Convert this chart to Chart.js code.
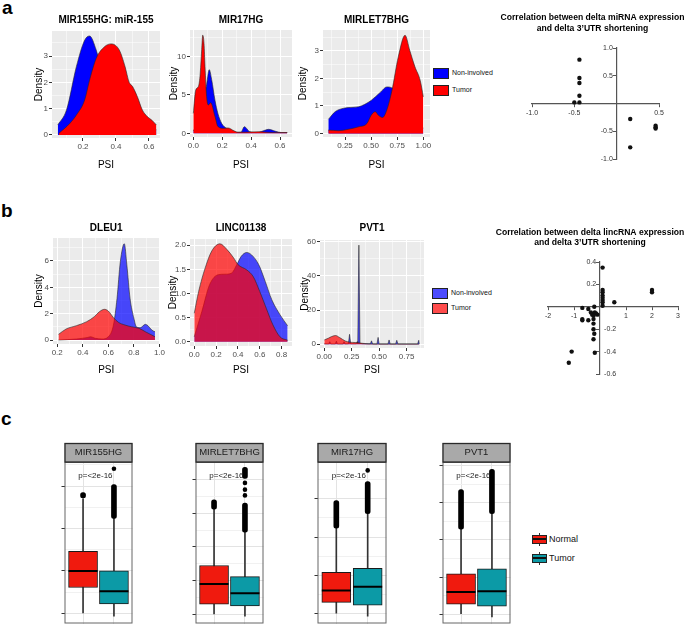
<!DOCTYPE html>
<html>
<head>
<meta charset="utf-8">
<script src="https://cdn.jsdelivr.net/npm/chart.js@4.4.0/dist/chart.umd.min.js"></script>
<style>
  body { margin: 0; background: #fff; width: 685px; height: 642px; overflow: hidden; position: relative;
         font-family: "Liberation Sans", Arial, sans-serif; }
  canvas { position: absolute; }
  .tag { position: absolute; font-weight: bold; font-size: 19px; line-height: 19px; }
  .key { position: absolute; width: 14px; height: 9px; border: 1px solid #222; }
  .ktxt { position: absolute; font-size: 7px; line-height: 8px; color: #111; }
  .bkey { position: absolute; width: 15px; height: 13px; }
  .bkey .w { position: absolute; left: 7px; top: 0; width: 1px; height: 13px; background: #333; }
  .bkey .b { position: absolute; left: 0; top: 2px; width: 13px; height: 7px; border: 1px solid #222; }
  .bkey .m { position: absolute; left: 1px; top: 5px; width: 13px; height: 2px; background: #111; }
  .btxt { position: absolute; font-size: 9px; line-height: 10px; color: #111; }
</style>
</head>
<body>
<div class="tag" style="left:2px;top:-2px;">a</div>
<div class="tag" style="left:1px;top:201px;">b</div>
<div class="tag" style="left:1px;top:409px;">c</div>

<div class="key" style="left:433px;top:68px;background:#0000ff"></div>
<div class="key" style="left:433px;top:85px;background:#ff0000"></div>
<div class="ktxt" style="left:452px;top:69px;">Non-involved</div>
<div class="ktxt" style="left:452px;top:86px;">Tumor</div>

<div class="key" style="left:432px;top:288px;background:rgba(0,0,255,0.7)"></div>
<div class="key" style="left:432px;top:303px;background:rgba(255,0,0,0.7)"></div>
<div class="ktxt" style="left:451px;top:289px;">Non-involved</div>
<div class="ktxt" style="left:451px;top:304px;">Tumor</div>

<div class="bkey" style="left:532px;top:533px;"><div class="w"></div><div class="b" style="background:#f01a0e"></div><div class="m"></div></div>
<div class="bkey" style="left:532px;top:552px;"><div class="w"></div><div class="b" style="background:#0c9aa6"></div><div class="m"></div></div>
<div class="btxt" style="left:549px;top:534px;">Normal</div>
<div class="btxt" style="left:549px;top:553px;">Tumor</div>

<script>
// ---------- panel a : PSI density curves, [PSI, density] ----------
const mir155Normal = [[0.047,0.38],[0.1,0.95],[0.16,2.6],[0.21,3.6],[0.24,3.76],[0.28,3.23],[0.32,2.3],[0.36,1.7],[0.42,1.2],[0.5,0.7],[0.58,0.35],[0.645,0.2]];
const mir155Tumor  = [[0.053,0.06],[0.12,0.44],[0.16,0.76],[0.21,1.33],[0.24,2.09],[0.28,2.91],[0.33,3.35],[0.37,3.46],[0.42,3.23],[0.455,2.6],[0.48,2.0],[0.5,1.85],[0.53,1.45],[0.56,0.95],[0.59,0.7],[0.62,0.55],[0.645,0.38]];
const mir17Normal  = [[0.0,0.3],[0.03,1.5],[0.06,4.0],[0.09,6.1],[0.11,8.3],[0.127,7.0],[0.15,4.3],[0.17,2.6],[0.196,1.3],[0.23,0.65],[0.27,0.35],[0.3,0.13],[0.33,0.15],[0.353,0.87],[0.39,0.22],[0.44,0.1],[0.5,0.43],[0.52,0.52],[0.57,0.26],[0.61,0.1],[0.65,0.1]];
const mir17Tumor   = [[0.0,2.6],[0.016,5.6],[0.035,6.1],[0.046,7.4],[0.058,10.9],[0.065,12.8],[0.074,11.7],[0.081,8.7],[0.092,4.8],[0.104,3.7],[0.12,4.0],[0.15,2.2],[0.17,0.9],[0.21,0.65],[0.24,0.7],[0.28,0.35],[0.31,0.13],[0.36,0.15],[0.45,0.2],[0.55,0.1],[0.65,0.1]];
const let7bNormal  = [[0.09,0.51],[0.155,0.79],[0.22,0.9],[0.28,0.94],[0.38,0.97],[0.44,1.06],[0.5,1.2],[0.59,1.5],[0.65,1.69],[0.71,1.63],[0.75,1.3],[0.8,0.8],[0.9,0.4],[1.0,0.2]];
const let7bTumor   = [[0.09,0.12],[0.19,0.1],[0.28,0.15],[0.38,0.24],[0.46,0.36],[0.5,0.66],[0.54,0.79],[0.57,0.66],[0.61,0.58],[0.65,0.85],[0.7,1.57],[0.76,2.78],[0.825,3.57],[0.87,3.02],[0.92,2.42],[0.97,1.93],[1.0,1.33]];

// ---------- panel b ----------
const dleu1Normal  = [[0.21,0.0],[0.35,0.08],[0.44,0.2],[0.46,0.25],[0.5,0.13],[0.55,0.08],[0.6,0.25],[0.64,1.14],[0.668,3.16],[0.694,5.95],[0.725,7.3],[0.745,5.7],[0.77,3.16],[0.8,1.65],[0.82,1.0],[0.85,0.94],[0.89,1.19],[0.91,1.09],[0.94,0.76],[0.965,0.63]];
const dleu1Tumor   = [[0.21,0.43],[0.27,0.84],[0.35,1.09],[0.43,1.39],[0.49,1.77],[0.53,2.15],[0.57,2.33],[0.6,2.2],[0.64,1.7],[0.68,1.34],[0.73,1.14],[0.78,1.01],[0.84,0.89],[0.89,0.63],[0.94,0.38],[0.965,0.25]];
const lincNormal   = [[0.0,0.1],[0.07,0.63],[0.14,1.18],[0.22,1.39],[0.28,1.4],[0.34,1.42],[0.39,1.6],[0.43,1.77],[0.48,1.85],[0.525,1.8],[0.59,1.6],[0.65,1.25],[0.71,0.87],[0.785,0.56],[0.855,0.33]];
const lincTumor    = [[0.0,0.59],[0.04,1.04],[0.1,1.53],[0.16,1.88],[0.235,2.03],[0.3,1.91],[0.36,1.74],[0.4,1.6],[0.48,1.49],[0.54,1.35],[0.6,1.04],[0.66,0.69],[0.72,0.35],[0.785,0.1],[0.855,0.03]];
const pvt1Normal   = [[0.0,0.3],[0.04,0.2],[0.05,1.5],[0.06,0.2],[0.1,0.2],[0.11,1.8],[0.12,0.2],[0.17,0.2],[0.18,1.5],[0.19,0.2],[0.22,0.3],[0.23,5.8],[0.24,0.3],[0.29,0.3],[0.3,1.5],[0.305,0.5],[0.315,58],[0.325,0.5],[0.35,0.3],[0.42,0.3],[0.43,2.0],[0.44,0.2],[0.48,0.2],[0.49,4.0],[0.5,0.2],[0.58,0.2],[0.59,2.5],[0.6,0.2],[0.65,0.2],[0.66,2.3],[0.67,0.2],[0.85,0.2],[0.86,2.3],[0.865,0.2]];
const pvt1Tumor    = [[0.0,2.5],[0.036,3.5],[0.067,4.5],[0.103,5.1],[0.14,3.9],[0.19,1.95],[0.234,1.2],[0.28,1.0],[0.34,0.6],[0.4,0.2],[0.5,0.1],[0.7,0.1],[0.865,0.1]];

// ---------- tick values and labels ----------
const mir155XTicks = [0.2, 0.4, 0.6];        const mir155XLabels = ['0.2', '0.4', '0.6'];
const mir155YTicks = [0, 1, 2, 3];           const mir155YLabels = ['0', '1', '2', '3'];
const mir17XTicks = [0, 0.2, 0.4, 0.6];      const mir17XLabels = ['0.0', '0.2', '0.4', '0.6'];
const mir17YTicks = [0, 5, 10];              const mir17YLabels = ['0', '5', '10'];
const let7bXTicks = [0.25, 0.5, 0.75, 1];    const let7bXLabels = ['0.25', '0.50', '0.75', '1.00'];
const let7bYTicks = [0, 1, 2, 3];            const let7bYLabels = ['0', '1', '2', '3'];
const dleu1XTicks = [0.2, 0.4, 0.6, 0.8, 1]; const dleu1XLabels = ['0.2', '0.4', '0.6', '0.8', '1.0'];
const dleu1YTicks = [0, 2, 4, 6];            const dleu1YLabels = ['0', '2', '4', '6'];
const lincXTicks = [0, 0.2, 0.4, 0.6, 0.8];  const lincXLabels = ['0.0', '0.2', '0.4', '0.6', '0.8'];
const lincYTicks = [0, 0.5, 1, 1.5, 2];      const lincYLabels = ['0.0', '0.5', '1.0', '1.5', '2.0'];
const pvt1XTicks = [0, 0.25, 0.5, 0.75];     const pvt1XLabels = ['0.00', '0.25', '0.50', '0.75'];
const pvt1YTicks = [0, 20, 40, 60];          const pvt1YLabels = ['0', '20', '40', '60'];

// ---------- correlation scatters ----------
const mirnaTitle = ['Correlation between delta miRNA expression', 'and delta 3\u2019UTR shortening'];
const mirnaDeltaExpr = [-0.44, -0.44, -0.44, -0.44, -0.44, -0.5, 0.16, 0.16, 0.46, 0.46, 0.46];
const mirnaDeltaUtr  = [0.79, 0.46, 0.37, 0.14, 0.02, 0.02, -0.28, -0.79, -0.4, -0.43, -0.45];
const mirnaXTicks = [-1, -0.5, 0.5];
const mirnaYTicks = [1, 0.5, -0.5, -1];
const lincTitle = ['Correlation between delta lincRNA expression', 'and delta 3\u2019UTR shortening'];
const lincDeltaExpr = [0.1, 0.1, 0.1, 0.1, 0.1, 0.1, 0.1, 0.1, 0.55, 2.0, 2.0, -0.68, -0.68, -0.68, -0.45, -0.45, -0.35, -0.3, -0.2, -0.15, -0.1, -0.22, -0.25, -0.25, -0.25, -0.25, -0.22, -0.25, -1.09, -0.2, -1.2];
const lincDeltaUtr  = [0.35, 0.15, 0.13, 0.1, 0.08, 0.06, 0.04, 0.01, 0.04, 0.15, 0.13, -0.01, -0.11, -0.12, -0.02, -0.12, -0.05, -0.07, -0.05, -0.06, -0.07, 0.0, -0.08, -0.11, -0.15, -0.2, -0.24, -0.29, -0.4, -0.41, -0.5];
const lincXTicksC = [-2, -1, 1, 2, 3];
const lincYTicksPos = [0.4, 0.2];
const lincYTicksNeg = [-0.2, -0.4, -0.6];

// ---------- panel c : boxplot stats [lower whisker, Q1, median, Q3, upper whisker] ----------
const boxGenes = ['MIR155HG', 'MIRLET7BHG', 'MIR17HG', 'PVT1'];
const normalStats = [[0, 0.61, 1.0, 1.46, 2.7], [0, 0.3, 0.9, 1.45, 3.12], [0, 0.29, 0.6, 1.08, 2.23], [0, 0.27, 0.6, 1.09, 2.29]];
const tumorStats  = [[-0.07, 0.22, 0.52, 1.0, 2.24], [-0.05, 0.25, 0.63, 1.12, 2.44], [-0.07, 0.22, 0.7, 1.18, 2.61], [-0.07, 0.22, 0.62, 1.22, 2.71]];
// runs of overlapping outliers (from, to) and single outliers
const normalOutRuns = [[[2.72, 2.85]], [[3.12, 3.4]], [[2.23, 2.95]], [[2.29, 3.36]]];
const tumorOutRuns  = [[[2.24, 3.04]], [[2.44, 3.3], [4.03, 4.36]], [[2.61, 3.45]], [[2.71, 3.9]]];
const normalOutPts  = [[], [], [], []];
const tumorOutPts   = [[3.41], [3.53, 3.7, 3.9], [3.74], []];
const boxYRange = [[-0.24, 3.57], [-0.27, 4.52], [-0.26, 3.96], [-0.25, 4.1]];
const boxYTicks = [[0, 1, 2, 3], [0, 1, 2, 3, 4], [0, 1, 2, 3], [0, 1, 2, 3, 4]];
const pLabel = 'p=<2e-16';

Chart.defaults.font.family = '"Liberation Sans", Arial, sans-serif';
Chart.defaults.animation = false;
Chart.defaults.responsive = false;
Chart.defaults.events = [];
Chart.defaults.plugins.legend.display = false;
Chart.defaults.plugins.tooltip.enabled = false;

const BLUE = '#0000ff', RED = '#ff0000';
const BLUE_A = 'rgba(0,0,255,0.7)', RED_A = 'rgba(255,0,0,0.7)';
const BOX_RED = '#f01a0e', BOX_TEAL = '#0c9aa6';

function makeCanvas(left, top, w, h) {
    const c = document.createElement('canvas');
    c.width = w; c.height = h;
    c.style.left = left + 'px'; c.style.top = top + 'px';
    c.style.width = w + 'px'; c.style.height = h + 'px';
    document.body.appendChild(c);
    return c.getContext('2d');
}

// major ticks from the arrays, minor ticks half way between them
function tickSet(major, labels, range) {
    const step = major.length > 1 ? major[1] - major[0] : 1;
    const minor = [];
    for (let v = major[0] - step / 2; v <= range[1] + 1e-9; v += step) {
        if (v >= range[0] - 1e-9) minor.push(v);
    }
    const idx = v => major.findIndex(m => Math.abs(m - v) < 1e-9);
    return {
        build: s => { s.ticks = major.concat(minor).sort((a, b) => a - b).map(v => ({value: v})); },
        label: v => { const i = idx(v); return i < 0 ? '' : labels[i]; },
        isMajor: c => !!(c.tick && idx(c.tick.value) >= 0)
    };
}

const panelBg = {
    id: 'panelBg',
    beforeDraw(chart, args, o) {
        const {ctx, chartArea: a} = chart;
        ctx.save();
        ctx.fillStyle = o.color;
        ctx.fillRect(a.left, a.top, a.right - a.left, a.bottom - a.top);
        ctx.restore();
    }
};

const panelTitle = {
    id: 'panelTitle',
    afterDraw(chart, args, o) {
        const {ctx, chartArea: a} = chart;
        ctx.save();
        ctx.font = 'bold 10px "Liberation Sans", Arial, sans-serif';
        ctx.fillStyle = '#000';
        ctx.textAlign = 'center';
        ctx.textBaseline = 'middle';
        ctx.fillText(o.text, (a.left + a.right) / 2, a.top - o.dy);
        ctx.restore();
    }
};

// two-line bold heading centred on the canvas
const headline = {
    id: 'headline',
    afterDraw(chart, args, o) {
        const ctx = chart.ctx;
        ctx.save();
        ctx.font = 'bold 8.6px "Liberation Sans", Arial, sans-serif';
        ctx.fillStyle = '#000';
        ctx.textAlign = 'center';
        ctx.textBaseline = 'middle';
        o.lines.forEach((t, i) => ctx.fillText(t, chart.width / 2, o.y[i]));
        ctx.restore();
    }
};

function densAxis(range, ts, title, isX, size) {
    return {
        type: 'linear', min: range[0], max: range[1],
        afterBuildTicks: ts.build,
        afterFit: s => { if (isX) s.height = size; else s.width = size; },
        ticks: {autoSkip: false, maxRotation: 0, padding: 1, color: '#4d4d4d', font: {size: 8},
                callback: v => ts.label(v)},
        grid: {color: '#ffffff', lineWidth: c => ts.isMajor(c) ? 1 : 0.5,
               tickColor: c => ts.isMajor(c) ? '#333' : 'rgba(0,0,0,0)', tickLength: 3},
        border: {display: false},
        title: {display: true, text: title, color: '#000', font: {size: 10},
                padding: isX ? {top: 0, bottom: 1} : {top: 0, bottom: 0}}
    };
}

function densityPlot(g, title, normal, tumor, xr, yr, xt, xl, yt, yl, alpha, sharp) {
    const cx = g.yTitleX - 6, cy = g.titleY - 10;
    const cw = g.R + 4 - cx, ch = g.psiY + 7 - cy;
    const ctx = makeCanvas(cx, cy, cw, ch);
    const xs = tickSet(xt, xl, xr), ys = tickSet(yt, yl, yr);
    const ds = (pts, color, order, sh) => ({
        data: pts.map(p => ({x: p[0], y: p[1]})),
        backgroundColor: color, borderColor: '#262626', borderWidth: 0.6,
        fill: 'origin', pointRadius: 0, order: order,
        tension: sh ? 0 : 0.4, cubicInterpolationMode: sh ? 'default' : 'monotone'
    });
    new Chart(ctx, {
        type: 'line',
        data: {datasets: [
            ds(tumor, alpha ? RED_A : RED, 0, false),
            ds(normal, alpha ? BLUE_A : BLUE, 1, sharp)
        ]},
        options: {
            layout: {padding: {left: 0, top: g.T - cy, right: cx + cw - g.R, bottom: 0}},
            plugins: {panelBg: {color: '#ebebeb'}, panelTitle: {text: title, dy: g.T - g.titleY}},
            scales: {
                x: densAxis(xr, xs, 'PSI', true, cy + ch - g.B),
                y: densAxis(yr, ys, 'Density', false, g.L - cx)
            }
        },
        plugins: [panelBg, panelTitle]
    });
}

// panel a
densityPlot({L: 52, T: 31, R: 160, B: 138, yTitleX: 39, titleY: 20, psiY: 165}, 'MIR155HG: miR-155',
    mir155Normal, mir155Tumor, [0.012, 0.667], [-0.114, 3.95],
    mir155XTicks, mir155XLabels, mir155YTicks, mir155YLabels, false, false);
densityPlot({L: 190, T: 30, R: 292, B: 137, yTitleX: 174, titleY: 20, psiY: 165}, 'MIR17HG',
    mir17Normal, mir17Tumor, [-0.023, 0.683], [-0.48, 13.47],
    mir17XTicks, mir17XLabels, mir17YTicks, mir17YLabels, false, false);
densityPlot({L: 323, T: 30, R: 430, B: 137, yTitleX: 303, titleY: 20, psiY: 165}, 'MIRLET7BHG',
    let7bNormal, let7bTumor, [0.039, 1.064], [-0.13, 3.76],
    let7bXTicks, let7bXLabels, let7bYTicks, let7bYLabels, false, false);

// panel b
densityPlot({L: 53, T: 238, R: 162, B: 344, yTitleX: 39, titleY: 228, psiY: 370}, 'DLEU1',
    dleu1Normal, dleu1Tumor, [0.167, 1.0], [-0.3, 7.74],
    dleu1XTicks, dleu1XLabels, dleu1YTicks, dleu1YLabels, true, false);
densityPlot({L: 190, T: 239, R: 292, B: 346, yTitleX: 173, titleY: 228, psiY: 370}, 'LINC01138',
    lincNormal, lincTumor, [-0.039, 0.895], [-0.09, 2.13],
    lincXTicks, lincXLabels, lincYTicks, lincYLabels, true, false);
densityPlot({L: 320, T: 240, R: 424, B: 348, yTitleX: 305, titleY: 228, psiY: 370}, 'PVT1',
    pvt1Normal, pvt1Tumor, [-0.039, 0.908], [-2.2, 61],
    pvt1XTicks, pvt1XLabels, pvt1YTicks, pvt1YLabels, true, true);

// ---------- correlation scatter plots (axes crossing at 0) ----------
function crossAxis(range, ticks, pos, fmt, extra) {
    return Object.assign({
        type: 'linear', min: range[0], max: range[1], position: pos,
        afterBuildTicks: s => { s.ticks = ticks.map(v => ({value: v})); },
        ticks: {autoSkip: false, maxRotation: 0, padding: 2, color: '#333', font: {size: 7}, callback: fmt},
        grid: {drawOnChartArea: false, tickLength: 3, color: '#555', tickColor: '#555'},
        border: {color: '#555', width: 1.2}
    }, extra || {});
}

new Chart(makeCanvas(500, 0, 185, 175), {
    type: 'scatter',
    data: {datasets: [{
        data: mirnaDeltaExpr.map((x, i) => ({x: x, y: mirnaDeltaUtr[i]})),
        pointRadius: 2.2, backgroundColor: '#111', borderWidth: 0
    }]},
    options: {
        layout: {padding: {left: 32, right: 26, top: 48, bottom: 16}},
        plugins: {headline: {lines: mirnaTitle, y: [18, 29]}},
        scales: {
            x: crossAxis([-1, 0.5], mirnaXTicks, {y: 0}, v => v.toFixed(1)),
            y: crossAxis([-1, 1], mirnaYTicks, {x: 0}, v => v.toFixed(1) + '  ')
        }
    },
    plugins: [headline]
});

new Chart(makeCanvas(495, 205, 190, 180), {
    type: 'scatter',
    data: {datasets: [{
        data: lincDeltaExpr.map((x, i) => ({x: x, y: lincDeltaUtr[i]})),
        pointRadius: 2.2, backgroundColor: '#111', borderWidth: 0
    }]},
    options: {
        layout: {padding: {left: 53, right: 7, top: 57, bottom: 11}},
        plugins: {headline: {lines: lincTitle, y: [28, 38]}},
        scales: {
            x: crossAxis([-2, 3], lincXTicksC, {y: 0}, v => String(v)),
            y: crossAxis([-0.6, 0.4], lincYTicksPos.concat(lincYTicksNeg), {x: 0},
                v => lincYTicksPos.includes(v) ? v.toFixed(1) + '  ' : ''),
            y2: crossAxis([-0.6, 0.4], lincYTicksNeg, {x: 0.62}, v => v.toFixed(1),
                {axis: 'y', grid: {display: false}, border: {display: false}})
        }
    },
    plugins: [headline]
});

// ---------- panel c : boxplots ----------
const facet = {
    id: 'facet',
    afterDraw(chart, args, o) {
        const {ctx, chartArea: a, scales} = chart;
        ctx.save();
        ctx.strokeStyle = '#666'; ctx.lineWidth = 1;
        ctx.strokeRect(a.left + 0.5, a.top + 0.5, a.right - a.left - 1, a.bottom - a.top - 1);
        ctx.fillStyle = '#a9a9a9';
        ctx.fillRect(a.left, a.top - 19, a.right - a.left, 19);
        ctx.strokeStyle = '#2a2a2a'; ctx.lineWidth = 1.3;
        ctx.strokeRect(a.left + 0.5, a.top - 18.5, a.right - a.left - 1, 18.5);
        ctx.fillStyle = '#1a1a1a';
        ctx.textAlign = 'center'; ctx.textBaseline = 'middle';
        ctx.font = '9.5px "Liberation Sans", Arial, sans-serif';
        ctx.fillText(o.strip, (a.left + a.right) / 2, a.top - 9.5);
        ctx.font = '8px "Liberation Sans", Arial, sans-serif';
        ctx.fillText(o.p, scales.x.getPixelForValue(1.4), a.top + 14);
        ctx.restore();
    }
};

const boxLeft = [56, 187, 309, 434];
const boxRight = [143, 274, 397, 521];

boxGenes.forEach((gene, i) => {
    const L = boxLeft[i], R = boxRight[i];
    const ctx = makeCanvas(L - 8, 440, R - L + 14, 200);
    const st = [normalStats[i], tumorStats[i]];
    const runs = [], pts = [];
    normalOutRuns[i].forEach(r => runs.push({x: 1, y: r}));
    tumorOutRuns[i].forEach(r => runs.push({x: 2, y: r}));
    normalOutPts[i].forEach(v => pts.push({x: 1, y: v}));
    tumorOutPts[i].forEach(v => pts.push({x: 2, y: v}));
    const ys = tickSet(boxYTicks[i], boxYTicks[i].map(() => ''), boxYRange[i]);
    new Chart(ctx, {
        type: 'bar',
        data: {datasets: [
            {type: 'bar', data: st.map((s, k) => ({x: k + 1, y: [s[0], s[4]]})), barThickness: 1,
             backgroundColor: '#333', grouped: false, order: 4},
            {type: 'bar', data: st.map((s, k) => ({x: k + 1, y: [s[1], s[3]]})), barThickness: 29,
             backgroundColor: [BOX_RED, BOX_TEAL], borderColor: '#1a1a1a', borderWidth: 1,
             borderSkipped: false, grouped: false, order: 3},
            {type: 'bar', data: runs, barThickness: 5, backgroundColor: '#000', borderRadius: 3,
             borderSkipped: false, grouped: false, order: 2},
            {type: 'scatter', data: st.map((s, k) => ({x: k + 1, y: s[2]})), pointStyle: 'line',
             pointRadius: 14.5, borderColor: '#000', borderWidth: 2, order: 1},
            {type: 'scatter', data: pts, pointRadius: 2.3, backgroundColor: '#000', borderWidth: 0, order: 1}
        ]},
        options: {
            layout: {padding: {left: 5, top: 22, right: 6, bottom: 3}},
            plugins: {facet: {strip: gene, p: pLabel}},
            scales: {
                x: {type: 'linear', min: 0.4, max: 2.6, offset: false,
                    afterBuildTicks: s => { s.ticks = [{value: 1}, {value: 2}]; },
                    afterFit: s => { s.height = 0; },
                    ticks: {display: false},
                    grid: {offset: false, color: '#e3e3e3', drawTicks: false},
                    border: {display: false}},
                y: {type: 'linear', min: boxYRange[i][0], max: boxYRange[i][1],
                    afterBuildTicks: ys.build,
                    afterFit: s => { s.width = 3; },
                    ticks: {callback: () => ''},
                    grid: {color: c => ys.isMajor(c) ? '#e3e3e3' : '#f1f1f1',
                           tickColor: c => ys.isMajor(c) ? '#333' : 'rgba(0,0,0,0)', tickLength: 3},
                    border: {display: false}}
            }
        },
        plugins: [facet]
    });
});
</script>
</body>
</html>
